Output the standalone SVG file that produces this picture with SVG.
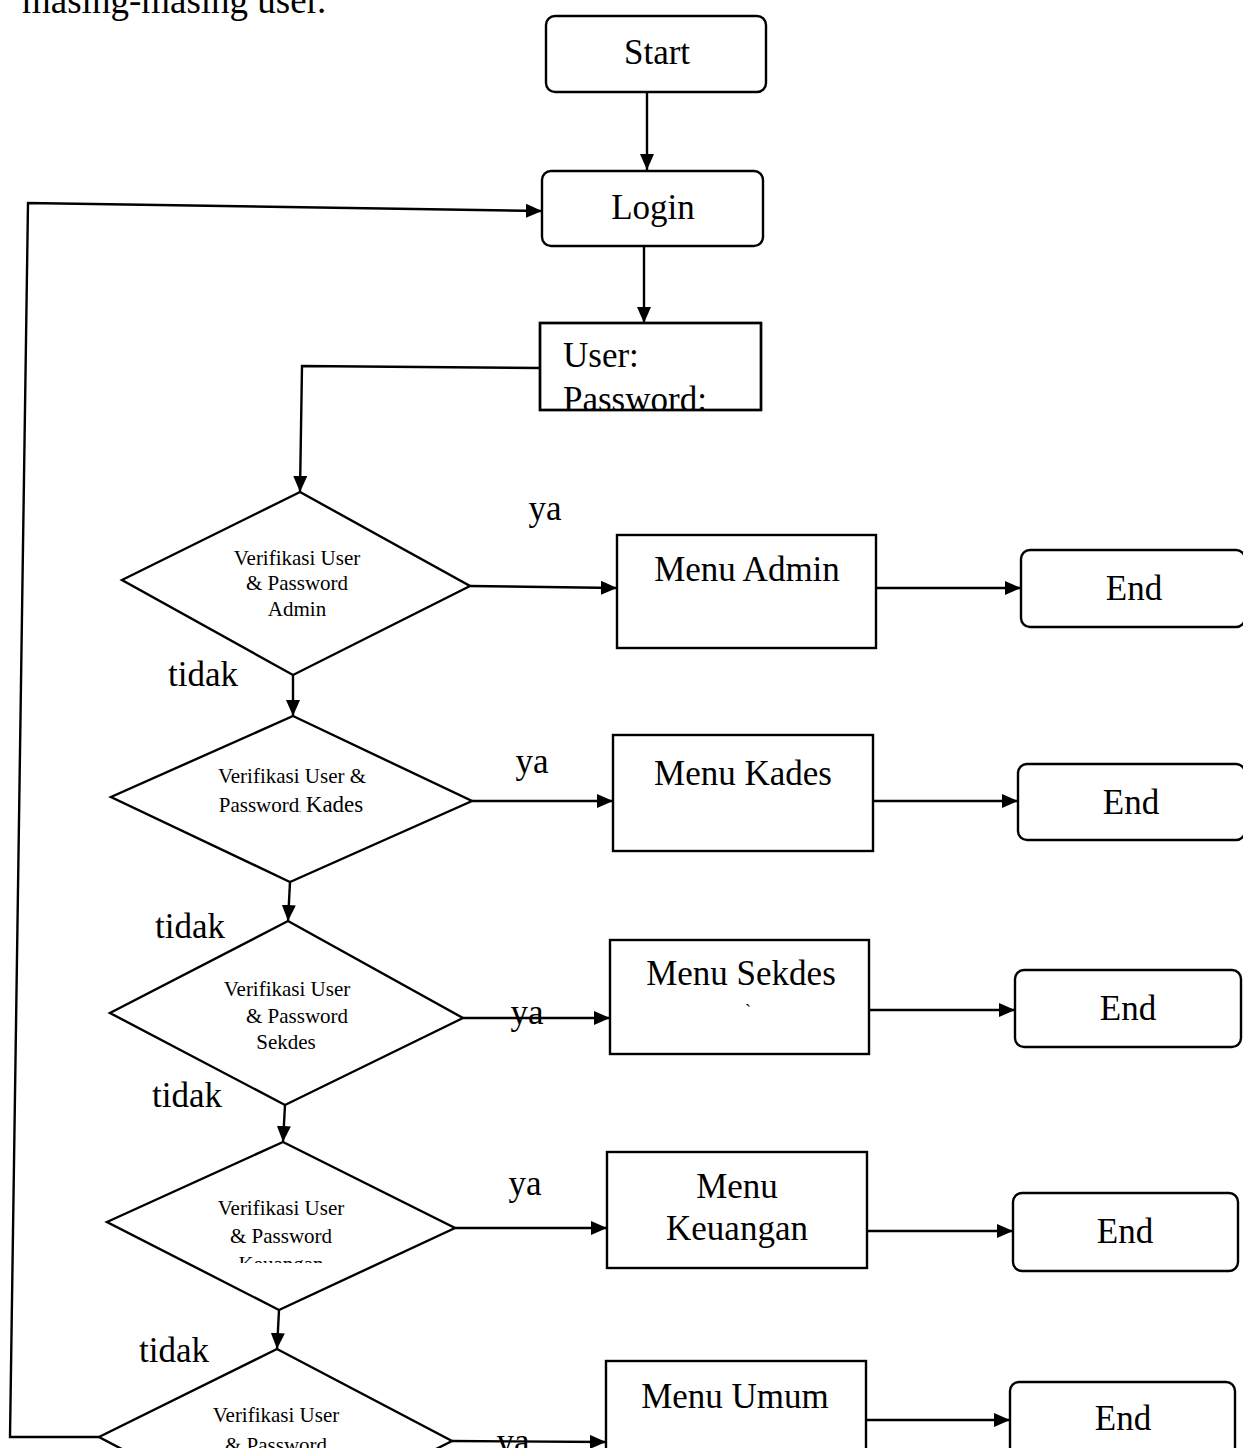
<svg xmlns="http://www.w3.org/2000/svg" width="1243" height="1448" viewBox="0 0 1243 1448">
  <style>
    .shape { fill: #fff; stroke: #000; stroke-width: 2.4; }
    .wire { fill: none; stroke: #000; stroke-width: 2.4; }
    .lbl { font-family: "Liberation Serif", "Times New Roman", serif; fill: #000; text-anchor: middle; }
    .big { font-size: 35px; }
    .small { font-size: 21px; }
    .plain { font-family: "Liberation Serif", "Times New Roman", serif; fill: #000; font-size: 35px; }
  </style>
  <defs>
    <marker id="arrow" viewBox="0 0 16 14" refX="16" refY="7" markerWidth="16" markerHeight="14" markerUnits="userSpaceOnUse" orient="auto">
      <path d="M0,0 L16,7 L0,14 Z" fill="#000"/>
    </marker>
    <clipPath id="clipUser"><rect x="540" y="323" width="221" height="86"/></clipPath>
    <clipPath id="clipKeu"><rect x="100" y="1140" width="360" height="123"/></clipPath>
  </defs>

  <rect width="1243" height="1448" fill="#fff"/>

  <!-- running text above the chart -->
  <text class="plain" x="22" y="13" style="font-size:37px">masing-masing user.</text>

  <!-- connectors -->
  <g id="connectors">
    <line class="wire" x1="647" y1="92" x2="647" y2="170" marker-end="url(#arrow)"/>
    <line class="wire" x1="644" y1="246" x2="644" y2="323" marker-end="url(#arrow)"/>
    <path class="wire" d="M540,368 L302,366 L300,492" marker-end="url(#arrow)"/>

    <line class="wire" x1="470" y1="586" x2="617" y2="588" marker-end="url(#arrow)"/>
    <line class="wire" x1="876" y1="588" x2="1021" y2="588" marker-end="url(#arrow)"/>
    <line class="wire" x1="293" y1="675" x2="293" y2="716" marker-end="url(#arrow)"/>

    <line class="wire" x1="472" y1="801" x2="613" y2="801" marker-end="url(#arrow)"/>
    <line class="wire" x1="873" y1="801" x2="1018" y2="801" marker-end="url(#arrow)"/>
    <line class="wire" x1="290" y1="882" x2="288" y2="921" marker-end="url(#arrow)"/>

    <line class="wire" x1="463" y1="1018" x2="610" y2="1018" marker-end="url(#arrow)"/>
    <line class="wire" x1="869" y1="1010" x2="1015" y2="1010" marker-end="url(#arrow)"/>
    <line class="wire" x1="285" y1="1105" x2="283" y2="1142" marker-end="url(#arrow)"/>

    <line class="wire" x1="455" y1="1228" x2="607" y2="1228" marker-end="url(#arrow)"/>
    <line class="wire" x1="867" y1="1231" x2="1013" y2="1231" marker-end="url(#arrow)"/>
    <line class="wire" x1="279" y1="1310" x2="277" y2="1349" marker-end="url(#arrow)"/>

    <line class="wire" x1="452" y1="1441" x2="606" y2="1442" marker-end="url(#arrow)"/>
    <line class="wire" x1="866" y1="1420" x2="1010" y2="1420" marker-end="url(#arrow)"/>

    <!-- loop back to login -->
    <path class="wire" d="M99,1437 L10,1437 L28,203 L542,211" marker-end="url(#arrow)"/>

    <!-- branch labels -->
    <text class="lbl big" x="545" y="520">ya</text>
    <text class="lbl big" x="203" y="686">tidak</text>
    <text class="lbl big" x="532" y="773">ya</text>
    <text class="lbl big" x="190" y="938">tidak</text>
    <text class="lbl big" x="527" y="1024">ya</text>
    <text class="lbl big" x="187" y="1107">tidak</text>
    <text class="lbl big" x="525" y="1195">ya</text>
    <text class="lbl big" x="174" y="1362">tidak</text>
    <text class="lbl big" x="513" y="1453">ya</text>
  </g>

  <!-- terminals and process boxes -->
  <g id="start">
    <rect class="shape" x="546" y="16" width="220" height="76" rx="9"/>
    <text class="lbl big" x="657" y="64">Start</text>
  </g>

  <g id="login">
    <rect class="shape" x="542" y="171" width="221" height="75" rx="9"/>
    <text class="lbl big" x="653" y="219">Login</text>
  </g>

  <g id="input">
    <rect class="shape" x="540" y="323" width="221" height="87"/>
    <g clip-path="url(#clipUser)">
      <text class="plain" x="563" y="367">User:</text>
      <text class="plain" x="563" y="411">Password:</text>
    </g>
    <rect x="540" y="323" width="221" height="87" fill="none" stroke="#000" stroke-width="2.4"/>
  </g>

  <!-- decision: admin -->
  <g id="verify-admin">
    <polygon class="shape" points="300,492 470,586 293,675 122,580"/>
    <text class="lbl small" x="297" y="565">Verifikasi User</text>
    <text class="lbl small" x="297" y="590">&amp; Password</text>
    <text class="lbl small" x="297" y="616">Admin</text>
  </g>
  <g id="menu-admin">
    <rect class="shape" x="617" y="535" width="259" height="113"/>
    <text class="lbl big" x="747" y="581">Menu Admin</text>
  </g>
  <g id="end-admin">
    <rect class="shape" x="1021" y="550" width="224" height="77" rx="9"/>
    <text class="lbl big" x="1134" y="600">End</text>
  </g>

  <!-- decision: kades -->
  <g id="verify-kades">
    <polygon class="shape" points="293,716 472,801 290,882 111,797"/>
    <text class="lbl small" x="292" y="783">Verifikasi User &amp;</text>
    <text class="lbl small" x="291" y="812"><tspan>Password</tspan><tspan style="font-size:10px" fill="#777">.</tspan><tspan dx="4" style="font-size:23px">Kades</tspan></text>
  </g>
  <g id="menu-kades">
    <rect class="shape" x="613" y="735" width="260" height="116"/>
    <text class="lbl big" x="743" y="785">Menu Kades</text>
  </g>
  <g id="end-kades">
    <rect class="shape" x="1018" y="764" width="227" height="76" rx="9"/>
    <text class="lbl big" x="1131" y="814">End</text>
  </g>

  <!-- decision: sekdes -->
  <g id="verify-sekdes">
    <polygon class="shape" points="288,921 463,1018 285,1105 110,1013"/>
    <text class="lbl small" x="287" y="996">Verifikasi User</text>
    <text class="lbl small" x="297" y="1023">&amp; Password</text>
    <text class="lbl small" x="286" y="1049">Sekdes</text>
  </g>
  <g id="menu-sekdes">
    <rect class="shape" x="610" y="940" width="259" height="114"/>
    <text class="lbl big" x="741" y="985">Menu Sekdes</text>
    <text class="plain" x="745" y="1017" style="font-size:18px">`</text>
  </g>
  <g id="end-sekdes">
    <rect class="shape" x="1015" y="970" width="226" height="77" rx="9"/>
    <text class="lbl big" x="1128" y="1020">End</text>
  </g>

  <!-- decision: keuangan -->
  <g id="verify-keuangan">
    <polygon class="shape" points="283,1142 455,1228 279,1310 107,1222"/>
    <text class="lbl small" x="281" y="1215">Verifikasi User</text>
    <text class="lbl small" x="281" y="1243">&amp; Password</text>
    <g clip-path="url(#clipKeu)">
      <text class="lbl small" x="281" y="1271">Keuangan</text>
    </g>
  </g>
  <g id="menu-keuangan">
    <rect class="shape" x="607" y="1152" width="260" height="116"/>
    <text class="lbl big" x="737" y="1198">Menu</text>
    <text class="lbl big" x="737" y="1240">Keuangan</text>
  </g>
  <g id="end-keuangan">
    <rect class="shape" x="1013" y="1193" width="225" height="78" rx="9"/>
    <text class="lbl big" x="1125" y="1243">End</text>
  </g>

  <!-- decision: umum -->
  <g id="verify-umum">
    <polygon class="shape" points="277,1349 452,1441 275,1530 99,1437"/>
    <text class="lbl small" x="276" y="1422">Verifikasi User</text>
    <text class="lbl small" x="276" y="1452">&amp; Password</text>
  </g>
  <g id="menu-umum">
    <rect class="shape" x="606" y="1361" width="260" height="110"/>
    <text class="lbl big" x="735" y="1408">Menu Umum</text>
  </g>
  <g id="end-umum">
    <rect class="shape" x="1010" y="1382" width="225" height="90" rx="9"/>
    <text class="lbl big" x="1123" y="1430">End</text>
  </g>
</svg>
